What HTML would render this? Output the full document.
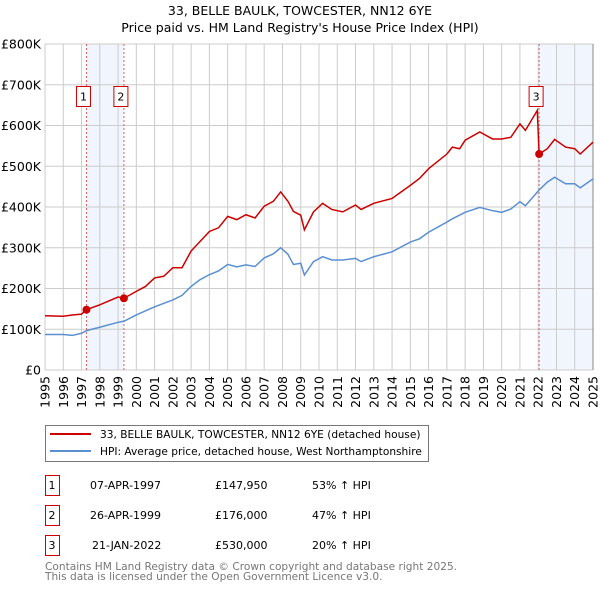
<!DOCTYPE html>
<html><head><meta charset="utf-8"><style>
body{margin:0;background:#fff;}
svg{display:block;font-family:"DejaVu Sans","Liberation Sans",sans-serif;}
</style></head><body>
<svg id="chart" width="600" height="590" viewBox="0 0 600 590" xmlns="http://www.w3.org/2000/svg">
<text x="300" y="15" text-anchor="middle" font-size="12.5">33, BELLE BAULK, TOWCESTER, NN12 6YE</text>
<text x="300" y="32" text-anchor="middle" font-size="12.5">Price paid vs. HM Land Registry's House Price Index (HPI)</text>
<g id="plot"></g>
<g>
<rect x="45.5" y="425.5" width="383" height="36" fill="#fff" stroke="#777"/>
<line x1="50" y1="434" x2="91" y2="434" stroke="#cc0000" stroke-width="2"/>
<text x="100" y="438" font-size="10.6">33, BELLE BAULK, TOWCESTER, NN12 6YE (detached house)</text>
<line x1="50" y1="451" x2="91" y2="451" stroke="#5b8fd0" stroke-width="2"/>
<text x="100" y="455" font-size="10.6">HPI: Average price, detached house, West Northamptonshire</text>
</g>
<g id="table" font-size="11"></g>
<text x="45" y="570" font-size="10.6" fill="#777">Contains HM Land Registry data © Crown copyright and database right 2025.</text>
<text x="45" y="580" font-size="10.6" fill="#777">This data is licensed under the Open Government Licence v3.0.</text>
</svg>
<script>
const hpiYears=[1995,1996,1996.5,1997,1997.27,1998,1999,1999.32,2000,2001,2002,2002.5,2003,2003.5,2004,2004.5,2005,2005.5,2006,2006.5,2007,2007.5,2007.9,2008.3,2008.6,2009,2009.2,2009.7,2010.2,2010.7,2011.3,2012,2012.3,2013,2014,2015,2015.5,2016,2017,2017.3,2018,2018.8,2019.5,2020,2020.5,2021,2021.3,2022.05,2022.5,2022.9,2023.5,2024,2024.3,2025];
const hpiValues=[87,87,85,90,96.7,105,117,119.7,135,155,172,183,205,222,234,243,259,253,258,254,275,285,300,284,259,262,233,266,278,270,270,274,266,278,290,314,322,338,363,371,387,399,391,387,395,413,403,441.7,461,473,457,457,447,469];
const priceYears=[1995,1996,1996.5,1997,1997.27,1998,1999,1999.32,2000,2000.5,2001,2001.5,2002,2002.5,2003,2003.5,2004,2004.5,2005,2005.5,2006,2006.5,2007,2007.5,2007.9,2008.3,2008.6,2009,2009.2,2009.7,2010.2,2010.7,2011.3,2012,2012.3,2013,2014,2014.5,2015,2015.5,2016,2017,2017.3,2017.7,2018,2018.8,2019.5,2020,2020.5,2021,2021.3,2021.95,2022.05,2022.5,2022.9,2023.5,2024,2024.3,2025];
const priceValues=[133,132,135,137,147.95,160,179,176,193,205,226,230,251,251,292,316,340,349,377,369,381,373,402,414,437,414,389,380,344,388,409,394,388,405,394,409,421,437,453,470,494,530,547,543,564,584,567,567,571,604,588,637,530,543,566,547,543,530,559];
const saleYears=[1997.27,1999.32,2022.05];
const saleValues=[147.95,176,530];
const saleLabels=["1","2","3"];
const saleDates=["07-APR-1997","26-APR-1999","21-JAN-2022"];
const salePrices=["£147,950","£176,000","£530,000"];
const salePct=["53% ↑ HPI","47% ↑ HPI","20% ↑ HPI"];
const yTicks=[0,100,200,300,400,500,600,700,800];
const yTickLabels=["£0","£100K","£200K","£300K","£400K","£500K","£600K","£700K","£800K"];
const xTicks=[1995,1996,1997,1998,1999,2000,2001,2002,2003,2004,2005,2006,2007,2008,2009,2010,2011,2012,2013,2014,2015,2016,2017,2018,2019,2020,2021,2022,2023,2024,2025];

const NS="http://www.w3.org/2000/svg";
const L=45,R=593,T=44,B=370;
const x=v=>L+(v-1995)/30*(R-L);
const y=v=>B-v/800*(B-T);
const plot=document.getElementById('plot');
function mk(tag,attrs,parent){const e=document.createElementNS(NS,tag);for(const k in attrs)e.setAttribute(k,attrs[k]);(parent||plot).appendChild(e);return e;}
let s1=mk('rect',{x:x(saleYears[0]),y:T,width:x(saleYears[1])-x(saleYears[0]),height:B-T,fill:'#eef3fc',opacity:0.8});


let s2=mk('rect',{x:x(saleYears[2]),y:T,width:R-x(saleYears[2]),height:B-T,fill:'#eef3fc',opacity:0.8});


yTicks.forEach((t,i)=>{
 let g=mk('line',{x1:L,x2:R,y1:y(t),y2:y(t),stroke:'#ccc','stroke-width':1});
 
 
 let tx=mk('text',{x:L-4,y:y(t)+4.5,'text-anchor':'end','font-size':12.5});
 tx.textContent=yTickLabels[i];
 
 
});
xTicks.forEach(t=>{
 let g=mk('line',{x1:x(t),x2:x(t),y1:T,y2:B,stroke:'#ccc','stroke-width':1});
 
 
 let tx=mk('text',{transform:`translate(${x(t)+4.5},${B+6}) rotate(-90)`,'text-anchor':'end','font-size':12.5});
 tx.textContent=t;
 
 
});
let ax=mk('line',{x1:R,x2:R,y1:T,y2:B,stroke:'#888','stroke-width':1});


saleYears.forEach((s,i)=>{
 let l=mk('line',{x1:x(s),x2:x(s),y1:T,y2:B,stroke:'#e06060','stroke-width':1,'stroke-dasharray':'2,2'});
 
 
});
let hp=mk('polyline',{points:hpiYears.map((v,i)=>x(v)+','+y(hpiValues[i])).join(' '),fill:'none',stroke:'#5b8fd0','stroke-width':1.5});


let pp=mk('polyline',{points:priceYears.map((v,i)=>x(v)+','+y(priceValues[i])).join(' '),fill:'none',stroke:'#cc0000','stroke-width':1.5});


const boxOffset=[-3,-3,-3];
saleYears.forEach((s,i)=>{
 let c=mk('circle',{cx:x(s),cy:y(saleValues[i]),r:4,fill:'#cc0000'});
 
 
 const bx=x(s)+boxOffset[i]-7;
 let r=mk('rect',{x:bx,y:86.5,width:14,height:20,fill:'#fff',stroke:'#cc0000'});
 
 
 let t=mk('text',{x:bx+7,y:100.5,'text-anchor':'middle','font-size':11});
 t.textContent=saleLabels[i];
 
 
});
const tb=document.getElementById('table');
saleLabels.forEach((lab,i)=>{
 const yy=475+i*30;
 let r=mk('rect',{x:45.5,y:yy+0.5,width:14,height:20,fill:'#fff',stroke:'#cc0000'},tb);
 
 
 const cells=[[52,lab,'middle'],[i==2?92:90,saleDates[i],'start'],[215,salePrices[i],'start'],[312,salePct[i],'start']];
 cells.forEach(c=>{
  let t=mk('text',{x:c[0],y:yy+14,'text-anchor':c[2]},tb);
  t.textContent=c[1];
  
  
 });
});
</script>
</body></html>
